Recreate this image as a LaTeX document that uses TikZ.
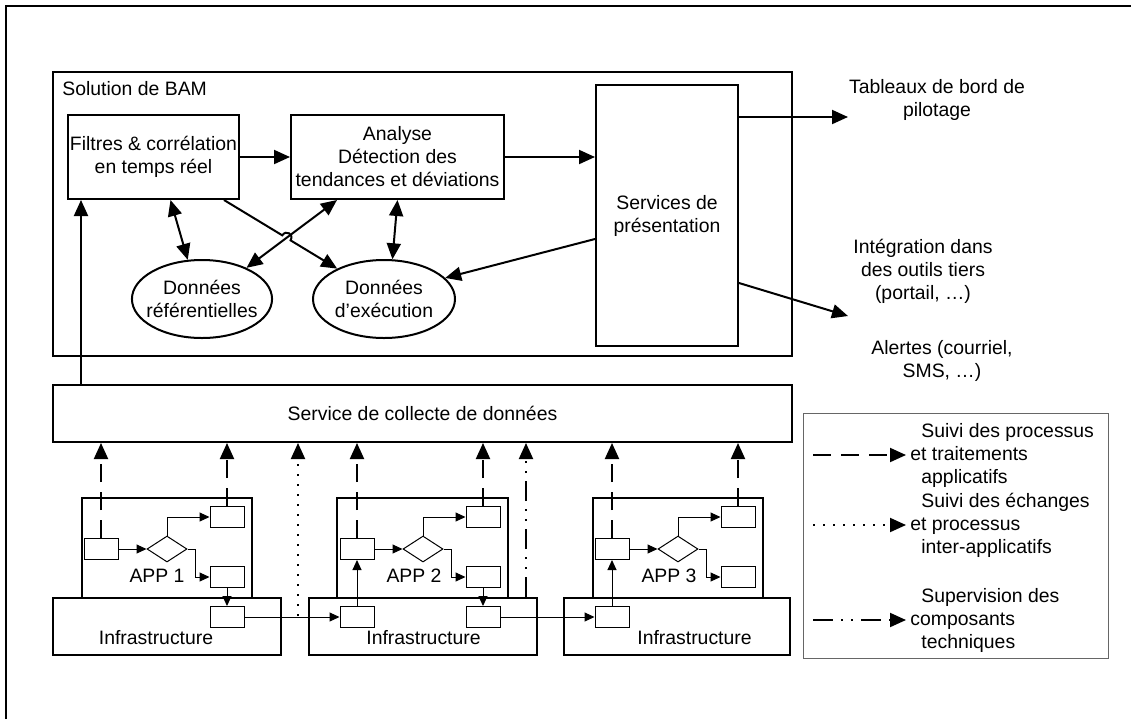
\documentclass[tikz,border=0pt]{standalone}
\usepackage{fontspec}
\setmainfont{Liberation Sans}
\usetikzlibrary{arrows.meta, positioning, calc, shapes.geometric}

\begin{document}
\begin{tikzpicture}[
      x=0.5pt, y=-0.5pt,
      font=\fontsize{9.7}{11.5}\selectfont,
      box/.style={draw, line width=1pt, align=center, inner sep=0pt},
      data/.style={draw, ellipse, line width=1pt, align=center, minimum width=70pt, minimum height=39pt, inner xsep=-3pt},
      cell/.style={draw, line width=0.5pt, minimum width=17pt, minimum height=10.5pt, inner sep=0pt},
      dec/.style={draw, diamond, line width=0.5pt, minimum width=20pt, minimum height=13pt, inner sep=0pt},
      txt/.style={align=center, inner sep=0pt},
      arr/.style={-{Triangle[length=8pt, width=7pt]}, line width=1pt},
      darr/.style={{Triangle[length=8pt, width=7pt]}-{Triangle[length=8pt, width=7pt]}, line width=1pt},
      flow/.style={-{Triangle[length=5pt, width=4.5pt]}, line width=0.5pt},
      appmon/.style={arr, dash pattern=on 9pt off 5pt},
      xchmon/.style={arr, dash pattern=on 1pt off 4pt},
      supmon/.style={arr, dash pattern=on 10pt off 4pt on 1pt off 4pt on 1pt off 4pt}
    ]
    \useasboundingbox (0,0) rectangle (1131,719);
    \draw[line width=1pt] (6,719) -- (6,6) -- (1131,6);

    % solution de BAM
    \node[box, minimum width=369.5pt, minimum height=142pt] (bam) at (422.5,214) {};
    \node[anchor=west, inner sep=0pt] (bamlbl) at (62,89) {Solution de BAM};
    \node[box, minimum width=85.5pt, minimum height=42pt] (filt) at (153.5,157) {Filtres \& corrélation\\en temps réel};
    \node[box, minimum width=106.5pt, minimum height=42pt] (ana) at (397.5,157) {Analyse\\Détection des\\tendances et déviations};
    \node[box, minimum width=71pt, minimum height=130.5pt] (serv) at (667,215.5) {Services de\\présentation};
    \node[data] (ref) at (202,299) {Données\\référentielles};
    \node[data, minimum width=71pt] (exec) at (384,299) {Données\\d’exécution};

    \node[txt] (tabl) at (937,100) {Tableaux de bord de\\pilotage};
    \node[txt] (integ) at (923,271) {Intégration dans\\des outils tiers\\(portail, …)};
    \node[txt] (alert) at (942,361) {Alertes (courriel,\\SMS, …)};
    \coordinate (tabltip) at (848,117);
    \coordinate (integtip) at (848,316);

    \node[box, minimum width=369.5pt, minimum height=28.5pt] (collect) at (422.5,413.5) {Service de collecte de données};

    % applications
    \node[box, minimum width=85pt, minimum height=50pt] (app1) at (167,548) {};
    \node[box, minimum width=114pt, minimum height=28.5pt] (infra1) at (167,626.5) {};
    \node[dec] (d1) at (167,549) {};
    \node[cell, left=14pt of d1] (s1) {};
    \node[cell, xshift=30pt, yshift=16pt] (t1) at (d1) {};
    \node[cell, xshift=30pt, yshift=-14pt] (b1) at (d1) {};
    \node[cell, below=9pt of b1] (i1) {};
    \node[inner sep=0pt] (app1lbl) at (157,576) {APP 1};
    \node[inner sep=0pt] (infra1lbl) at (156,638) {Infrastructure};

    \node[box, minimum width=85.5pt, minimum height=50pt] (app2) at (422.5,548) {};
    \node[box, minimum width=114pt, minimum height=28.5pt] (infra2) at (423,626.5) {};
    \node[dec] (d2) at (423,549) {};
    \node[cell, left=14pt of d2] (s2) {};
    \node[cell, xshift=30pt, yshift=16pt] (t2) at (d2) {};
    \node[cell, xshift=30pt, yshift=-14pt] (b2) at (d2) {};
    \node[cell, below=23pt of s2] (i2a) {};
    \node[cell, below=9pt of b2] (i2b) {};
    \node[inner sep=0pt] (app2lbl) at (414,576) {APP 2};
    \node[inner sep=0pt] (infra2lbl) at (423.5,638) {Infrastructure};

    \node[box, minimum width=85pt, minimum height=50pt] (app3) at (678,548) {};
    \node[box, minimum width=113pt, minimum height=28.5pt] (infra3) at (677,626.5) {};
    \node[dec] (d3) at (678,549) {};
    \node[cell, left=14pt of d3] (s3) {};
    \node[cell, xshift=30pt, yshift=16pt] (t3) at (d3) {};
    \node[cell, xshift=30pt, yshift=-14pt] (b3) at (d3) {};
    \node[cell, below=23pt of s3] (i3) {};
    \node[inner sep=0pt] (app3lbl) at (669,576) {APP 3};
    \node[inner sep=0pt] (infra3lbl) at (694.5,638) {Infrastructure};

    % legend
    \node[draw=black!60, line width=0.5pt, minimum width=152.5pt, minimum height=122.5pt, inner sep=0pt] (legend) at (955.5,535.5) {};
    \node[anchor=west, align=left, inner sep=0pt] (lg1) at (910,455) {\hspace*{5.5pt}Suivi des processus\\et traitements\\\hspace*{5.5pt}applicatifs};
    \node[anchor=west, align=left, inner sep=0pt] (lg2) at (910,525) {\hspace*{5.5pt}Suivi des échanges\\et processus\\\hspace*{5.5pt}inter-applicatifs};
    \node[anchor=west, align=left, inner sep=0pt] (lg3) at (910,620) {\hspace*{5.5pt}Supervision des\\composants\\\hspace*{5.5pt}techniques};
    \coordinate (k1) at (813,455);
    \coordinate (k2) at (813,525);
    \coordinate (k3) at (813,620);

    \draw[arr] (filt.east) -- (ana.west);
    \draw[arr] (ana.east) -- (ana.east -| serv.west);
    \draw[darr] ([xshift=8.5pt]filt.south) -- (ref.110);
    \draw[darr] (ana.south) -- (exec.78);
    \draw[darr] ([xshift=23.5pt]ana.south west) -- (ref.35);
    \coordinate (fa) at ([xshift=-8pt]filt.south east);
    \coordinate (fb) at (exec.147);
    \coordinate (h1) at ($(fa)!0.515!(fb)$);
    \coordinate (h2) at ($(fa)!0.588!(fb)$);
    \draw[arr] (fa) -- (h1) .. controls ($(h1)!3.5pt!90:(h2)$) and ($(h2)!3.5pt!-90:(h1)$) .. (h2) -- (fb);
    \draw[arr] ([yshift=-11.75pt]serv.west) -- (exec.19);
    \draw[arr] ([yshift=49.25pt]serv.east) -- (tabltip);
    \draw[arr] ([yshift=-33.75pt]serv.east) -- (integtip);
    \draw[arr] ([xshift=7pt]filt.south west |- collect.north) -- ([xshift=7pt]filt.south west);

    \draw[flow] (s1) -- (d1);
    \draw[flow] (d1.north) |- (t1);
    \draw[flow] (d1.east) -- ++(4pt,0) |- (b1);
    \draw[flow] (b1) -- (i1);
    \draw[flow] (i1) -- (i2a);
    \draw[flow] (s2) -- (d2);
    \draw[flow] (d2.north) |- (t2);
    \draw[flow] (d2.east) -- ++(4pt,0) |- (b2);
    \draw[flow] (i2a) -- (s2);
    \draw[flow] (b2) -- (i2b);
    \draw[flow] (i2b) -- (i3);
    \draw[flow] (s3) -- (d3);
    \draw[flow] (d3.north) |- (t3);
    \draw[flow] (d3.east) -- ++(4pt,0) |- (b3);
    \draw[flow] (i3) -- (s3);

    \draw[appmon] (s1.north) -- (s1.north |- collect.south);
    \draw[appmon] (t1.north) -- (t1.north |- collect.south);
    \draw[appmon] (s2.north) -- (s2.north |- collect.south);
    \draw[appmon] (t2.north) -- (t2.north |- collect.south);
    \draw[appmon] (s3.north) -- (s3.north |- collect.south);
    \draw[appmon] (t3.north) -- (t3.north |- collect.south);
    \coordinate (xch) at (298,616);
    \draw[xchmon] (xch) -- (xch |- collect.south);
    \coordinate (sup) at ([xshift=-6pt]infra2.north east);
    \draw[supmon] (sup) -- (sup |- collect.south);

    \draw[appmon] (k1) -- ([xshift=-2pt]lg1.west);
    \draw[xchmon] (k2) -- ([xshift=-2pt]lg2.west);
    \draw[supmon] (k3) -- ([xshift=-2pt]lg3.west);
  \end{tikzpicture}
\end{document}
